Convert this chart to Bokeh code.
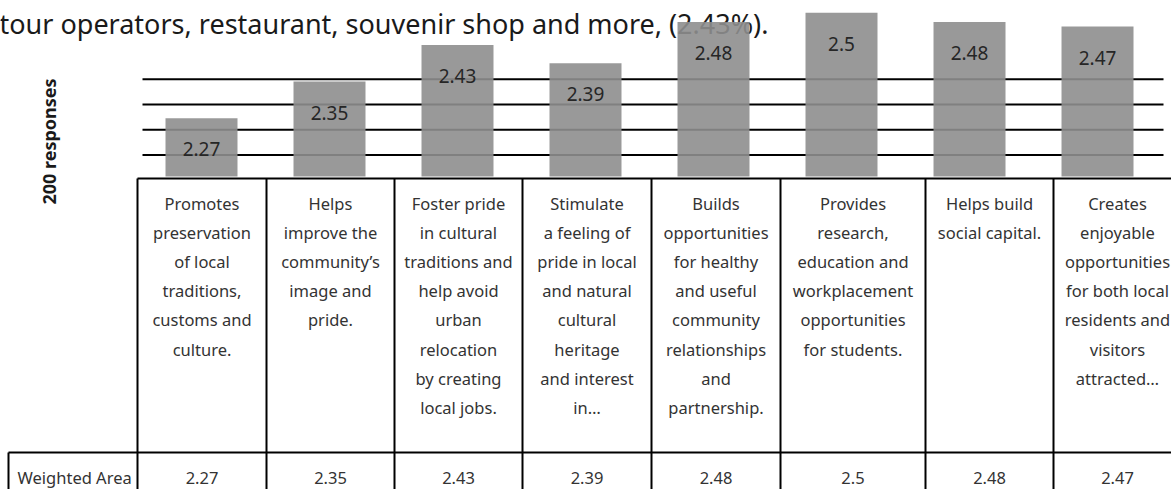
import math
from bokeh.plotting import figure
from bokeh.models import Range1d, ColumnDataSource
from bokeh.core.properties import value
from bokeh.embed import file_html
from bokeh.resources import INLINE

# ---------------- data ----------------
categories = [
    "Promotes\npreservation\nof local\ntraditions,\ncustoms and\nculture.",
    "Helps\nimprove the\ncommunity\u2019s\nimage and\npride.",
    "Foster pride\nin cultural\ntraditions and\nhelp avoid\nurban\nrelocation\nby creating\nlocal jobs.",
    "Stimulate\na feeling of\npride in local\nand natural\ncultural\nheritage\nand interest\nin\u2026",
    "Builds\nopportunities\nfor healthy\nand useful\ncommunity\nrelationships\nand\npartnership.",
    "Provides\nresearch,\neducation and\nworkplacement\nopportunities\nfor students.",
    "Helps build\nsocial capital.",
    "Creates\nenjoyable\nopportunities\nfor both local\nresidents and\nvisitors\nattracted\u2026",
]
weighted_area = [2.27, 2.35, 2.43, 2.39, 2.48, 2.5, 2.48, 2.47]
series_name = "Weighted Area"
y_axis_title = "200 responses"
grid_ticks = [2.19, 2.245, 2.30, 2.355]
axis_min = 2.143
header_text = "tour operators, restaurant, souvenir shop and more, (2.43%)."

# ---------------- layout ----------------
W, H = 1171, 489
FONT = "Noto Sans"

p = figure(width=W, height=H, output_backend="svg", toolbar_location=None,
           x_axis_location=None, y_axis_location=None,
           x_range=Range1d(-1.5703, 7.578), y_range=Range1d(1.460, 2.527),
           min_border=0, min_border_left=0, min_border_right=0,
           min_border_top=0, min_border_bottom=0,
           outline_line_color=None, background_fill_color="white",
           border_fill_color="white",
           styles={"position": "absolute", "left": "0px", "top": "0px"})
p.xgrid.visible = False
p.ygrid.visible = False
p.extra_x_ranges = {"px": Range1d(0, W)}
p.extra_y_ranges = {"px": Range1d(H, 0)}

# header sentence (drawn first so that bars cover it)
p.text(x=[-1], y=[23], text=[header_text], x_range_name="px", y_range_name="px",
       text_font=value(FONT), text_font_size="27px", text_color="#1a1a1a",
       text_align="left", text_baseline="middle")

# gridlines
n = len(grid_ticks)
p.segment(x0=[142] * n, x1=[1163] * n, y0=grid_ticks, y1=grid_ticks,
          x_range_name="px", line_color="black", line_width=2)

# bars
idx = list(range(len(weighted_area)))
src = ColumnDataSource(dict(x=idx, top=weighted_area,
                            lab=[str(v) for v in weighted_area]))
p.vbar(x="x", top="top", bottom=axis_min, width=0.5625, source=src,
       fill_color="#8e8e8e", fill_alpha=0.9, line_color=None)
p.text(x="x", y="top", text="lab", source=src, y_offset=31,
       text_font=value(FONT), text_font_size="19px", text_color="#262626",
       text_align="center", text_baseline="middle")

# y axis title
p.text(x=[48], y=[141], text=[y_axis_title], x_range_name="px", y_range_name="px",
       angle=math.pi / 2, text_font=value(FONT), text_font_size="18px",
       text_font_style="bold", text_color="#1a1a1a",
       text_align="center", text_baseline="middle")

# data table
col_edges = [137, 266, 394, 522, 651, 780, 925, 1053, 1181]
top_y, mid_y, bot_y = 178, 452, 500
lw = 2
p.segment(x0=[137, 8], x1=[W + 5, W + 5], y0=[top_y, mid_y], y1=[top_y, mid_y],
          x_range_name="px", y_range_name="px", line_color="black", line_width=lw)
p.segment(x0=col_edges, x1=col_edges, y0=[top_y] * len(col_edges),
          y1=[bot_y] * len(col_edges), x_range_name="px", y_range_name="px",
          line_color="black", line_width=lw)
p.segment(x0=[8], x1=[8], y0=[mid_y], y1=[bot_y], x_range_name="px",
          y_range_name="px", line_color="black", line_width=lw)

centers = [(col_edges[i] + col_edges[i + 1]) / 2 for i in range(len(categories))]
p.text(x=centers, y=[191] * len(categories), text=categories,
       x_range_name="px", y_range_name="px",
       text_font=value(FONT), text_font_size="16.5px", text_color="#333333",
       text_align="center", text_baseline="top", text_line_height=1.27)
p.text(x=centers, y=[477] * len(categories), text=[str(v) for v in weighted_area],
       x_range_name="px", y_range_name="px",
       text_font=value(FONT), text_font_size="16.5px", text_color="#333333",
       text_align="center", text_baseline="middle")
p.text(x=[17], y=[477], text=[series_name], x_range_name="px", y_range_name="px",
       text_font=value(FONT), text_font_size="16.5px", text_color="#333333",
       text_align="left", text_baseline="middle")

open("out.html", "w").write(file_html(p, INLINE))
